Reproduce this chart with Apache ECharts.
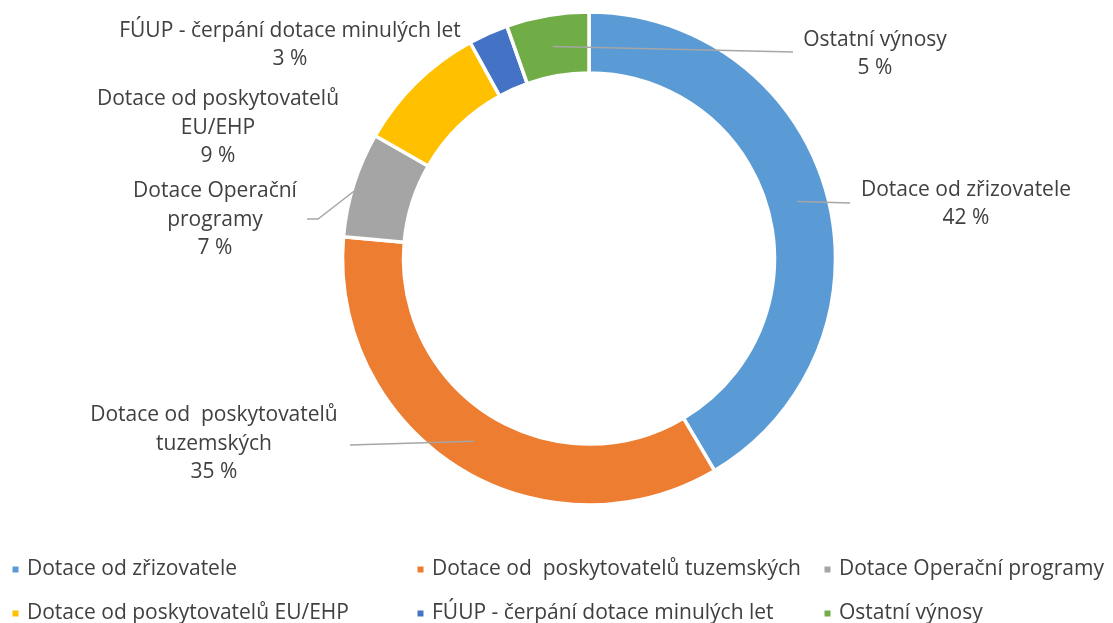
<!DOCTYPE html>
<html>
<head>
<meta charset="utf-8">
<script src="https://cdn.jsdelivr.net/npm/echarts@6/dist/echarts.min.js"></script>
<style>
  html, body { margin: 0; padding: 0; background: #fff; }
  #chart { width: 1113px; height: 623px; }
</style>
</head>
<body>
<div id="chart"></div>
<script>
// data (share in %)
const categories = [
    'Dotace od zřizovatele',
    'Dotace od  poskytovatelů tuzemských',
    'Dotace Operační programy',
    'Dotace od poskytovatelů EU/EHP',
    'FÚUP - čerpání dotace minulých let',
    'Ostatní výnosy'
];
const labelTexts = [
    'Dotace od zřizovatele',
    'Dotace od  poskytovatelů\ntuzemských',
    'Dotace Operační\nprogramy',
    'Dotace od poskytovatelů\nEU/EHP',
    'FÚUP - čerpání dotace minulých let',
    'Ostatní výnosy'
];
const shares = [41.5, 34.9, 6.9, 8.7, 2.6, 5.4];
const colors = ['#5B9BD5', '#ED7D31', '#A5A5A5', '#FFC000', '#4472C4', '#70AD47'];

// layout: where each label sits and where its leader line ends
const cx = 589, cy = 258.5;
const labelPos = [[966, 204], [214, 444], [215, 220], [218, 128], [290, 45], [875, 54]];
const lineEnds = [[[850, 203]], [[350, 445]], [[318, 219], [307, 219]], null, null, [[793, 52]]];
const lineStartR = [216, 216, 240, 216, 216, 215];

const FONT = '"Open Sans", "Liberation Sans", sans-serif';
const FONT_SIZE = 21;
const TEXT = '#404040';

const total = shares.reduce((s, v) => s + v, 0);
const midAngles = [];
let acc = 0;
shares.forEach(v => {
    midAngles.push((acc + v / 2) / total * 2 * Math.PI);
    acc += v;
});

// leader lines drawn on top of the ring (pie's own guide lines sit under the sectors)
const leaderLines = [];
lineEnds.forEach((ends, i) => {
    if (!ends) return;
    const a = midAngles[i];
    const r = lineStartR[i];
    const start = [cx + r * Math.sin(a), cy - r * Math.cos(a)];
    leaderLines.push({
        type: 'polyline',
        z: 100,
        silent: true,
        shape: { points: [start].concat(ends) },
        style: { stroke: '#A6A6A6', lineWidth: 1.5, fill: null }
    });
});

const chart = echarts.init(document.getElementById('chart'), null, { renderer: 'canvas' });

const legendCol = (items, left) => ({
    orient: 'vertical',
    left: left,
    top: 559,
    height: 120,
    data: items,
    icon: 'path://M0,0H10V10H0Z',
    itemWidth: 13,
    itemHeight: 8,
    itemGap: 23,
    padding: 0,
    selectedMode: false,
    textStyle: { fontFamily: FONT, fontSize: FONT_SIZE, color: TEXT, lineHeight: 20 }
});

const option = {
    animation: false,
    color: colors,
    graphic: leaderLines,
    legend: [
        legendCol([categories[0], categories[3]], 10.5),
        legendCol([categories[1], categories[4]], 415.5),
        legendCol([categories[2], categories[5]], 822.5)
    ],
    series: [{
        type: 'pie',
        center: [cx, cy],
        radius: [185.5, 246.5],
        startAngle: 90,
        clockwise: true,
        avoidLabelOverlap: false,
        itemStyle: { borderColor: '#fff', borderWidth: 3.5 },
        label: {
            show: true,
            position: 'outside',
            fontFamily: FONT,
            fontSize: FONT_SIZE,
            lineHeight: 28.5,
            color: TEXT,
            align: 'center',
            formatter: (p) => labelTexts[p.dataIndex] + '\n' + Math.round(p.percent) + ' %'
        },
        labelLine: { show: false },
        labelLayout: (p) => ({
            x: labelPos[p.dataIndex][0],
            y: labelPos[p.dataIndex][1],
            align: 'center',
            verticalAlign: 'middle'
        }),
        emphasis: { disabled: true },
        data: categories.map((name, i) => ({ name: name, value: shares[i] }))
    }]
};

chart.setOption(option);
</script>
</body>
</html>
